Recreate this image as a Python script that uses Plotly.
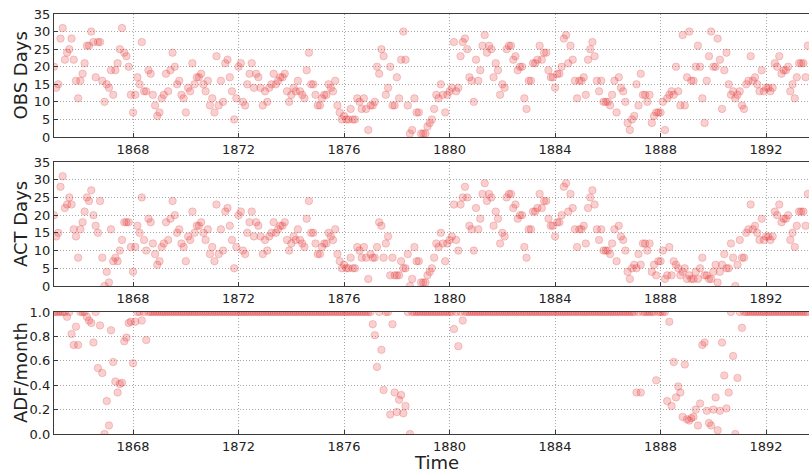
import pandas as pd
import plotly.graph_objects as go

# Monthly values, one row per year starting Jan 1865
OBS = [
    20,14,15,28,31,22,24,25,28,22,16,11,
    16,18,21,26,26,30,27,17,27,27,16,10,
    15,14,19,12,19,21,25,31,24,23,20,12,
    7,12,17,15,27,13,13,19,18,12,9,6,
    7,11,12,18,13,19,24,20,15,16,12,11,
    7,14,13,21,15,17,17,18,15,13,16,9,
    11,7,23,9,16,10,21,22,17,13,5,11,
    20,21,10,9,15,18,21,14,18,17,14,9,
    13,10,14,15,18,15,16,17,17,18,13,10,
    12,14,13,16,13,12,11,19,24,15,15,12,
    9,9,11,12,12,15,14,13,16,9,7,5,
    6,5,5,8,5,5,11,10,8,11,8,2,
    9,9,10,20,18,25,23,12,14,20,9,9,
    17,11,22,30,22,9,1,2,11,7,7,1,
    1,1,3,4,5,8,12,11,15,12,7,12,
    13,14,27,13,14,23,27,28,25,17,16,10,
    22,16,19,26,29,24,26,25,17,21,19,12,
    15,14,25,26,26,22,23,19,20,20,11,8,
    16,16,21,21,22,26,22,24,24,19,17,17,
    14,18,18,20,28,29,21,26,22,16,11,16,
    16,17,12,22,25,27,23,16,13,16,10,10,
    10,9,12,16,7,17,14,13,10,4,2,5,
    6,15,9,18,12,12,10,12,4,6,7,7,
    7,10,2,11,12,13,12,20,13,9,29,9,
    17,30,16,16,20,26,20,11,4,16,23,30,
    20,20,28,22,8,19,24,15,12,13,11,12,
    13,9,8,15,16,23,16,17,15,13,19,13,
    14,14,13,14,21,20,23,18,19,19,20,13,
    15,11,17,21,21,21,17,26,
]

ACT = [
    20,14,15,28,31,22,23,25,23,16,14,8,
    16,18,21,25,24,27,20,17,15,24,8,0,
    4,1,16,7,8,7,10,13,18,18,18,11,
    4,11,17,15,25,13,10,19,18,12,9,6,
    7,11,12,18,13,19,24,20,15,16,12,11,
    7,14,13,21,15,17,17,18,15,13,16,9,
    11,7,23,9,16,10,21,22,17,13,5,11,
    20,21,10,9,15,18,21,14,18,17,14,9,
    13,10,14,15,18,15,16,17,17,18,13,10,
    12,14,13,16,13,12,11,19,24,15,15,12,
    9,9,11,12,12,15,14,13,16,9,7,5,
    6,5,5,8,5,5,11,10,8,11,8,2,
    9,8,8,11,18,17,8,12,14,3,8,3,
    3,3,7,5,5,9,0,2,11,7,7,1,
    1,1,3,4,5,8,12,11,15,12,7,12,
    13,14,23,13,10,23,25,28,25,17,16,10,
    22,16,19,26,29,24,26,25,17,21,19,12,
    15,14,25,26,26,22,23,19,20,20,11,8,
    16,16,21,21,22,26,22,24,24,19,17,17,
    14,18,18,20,28,29,21,26,22,16,11,16,
    16,17,12,22,25,27,23,16,13,16,10,10,
    10,9,12,16,7,17,14,13,10,4,2,5,
    6,5,9,6,12,12,10,12,4,6,3,7,
    7,10,2,3,11,3,7,6,5,3,4,5,
    2,3,2,2,4,2,5,8,3,3,2,2,
    4,6,1,4,6,9,5,5,12,8,0,6,
    13,8,8,15,16,23,16,17,15,13,19,13,
    14,14,13,14,21,20,23,18,19,19,20,13,
    15,11,17,21,21,21,17,26,
]

ADF = [
    1,1,1,1,1,1,.96,1,.82,.73,.88,.73,
    1,1,1,.96,.93,.91,.75,1,.54,.89,.50,0,
    .27,.07,.85,.59,.43,.34,.41,.42,.76,.79,.91,.92,
    .58,.92,1,1,.93,1,.77,1,1,1,1,1,
    1,1,1,1,1,1,1,1,1,1,1,1,
    1,1,1,1,1,1,1,1,1,1,1,1,
    1,1,1,1,1,1,1,1,1,1,1,1,
    1,1,1,1,1,1,1,1,1,1,1,1,
    1,1,1,1,1,1,1,1,1,1,1,1,
    1,1,1,1,1,1,1,1,1,1,1,1,
    1,1,1,1,1,1,1,1,1,1,1,1,
    1,1,1,1,1,1,1,1,1,1,1,1,
    1,.90,.81,.55,1,.69,.36,1,1,.16,.90,.34,
    .18,.28,.32,.17,.23,1,0,1,1,1,1,1,
    1,1,1,1,1,1,1,1,1,1,1,1,
    1,1,.86,1,.72,1,.93,1,1,1,1,1,
    1,1,1,1,1,1,1,1,1,1,1,1,
    1,1,1,1,1,1,1,1,1,1,1,1,
    1,1,1,1,1,1,1,1,1,1,1,1,
    1,1,1,1,1,1,1,1,1,1,1,1,
    1,1,1,1,1,1,1,1,1,1,1,1,
    1,1,1,1,1,1,1,1,1,1,1,1,
    1,.34,1,.34,1,1,1,1,1,1,.44,1,
    1,1,1,.27,.92,.23,.59,.30,.39,.34,.14,.57,
    .12,.11,.13,.14,.20,.07,.25,.73,.75,.19,.09,.07,
    .20,.30,.03,.19,.75,.48,.21,.34,1,.64,0,.46,
    1,.87,1,1,1,1,1,1,1,1,1,1,
    1,1,1,1,1,1,1,1,1,1,1,1,
    1,1,1,1,1,1,1,1,
]

MONTHS = pd.date_range("1865-01-01", periods=len(OBS), freq="MS")
Y_TITLES = ["OBS Days", "ACT Days", "ADF/month"]
X_TITLE = "Time"

FONT = "DejaVu Sans"
TXT = "#222222"
marker = dict(size=7.5, color="rgba(232,60,60,0.24)",
              line=dict(color="rgba(225,50,50,0.22)", width=1))

fig = go.Figure()
for i, vals in enumerate([OBS, ACT, ADF], start=1):
    fig.add_trace(go.Scatter(
        x=MONTHS, y=vals, mode="markers", marker=marker,
        xaxis="x" if i == 1 else f"x{i}", yaxis="y" if i == 1 else f"y{i}",
        showlegend=False, hoverinfo="skip", cliponaxis=True))

GRID = dict(showgrid=True, gridcolor="#a8a8a8", griddash="1px,2px", gridwidth=1)
xcommon = dict(type="date", range=["1865-01-01", "1893-08-17"],
               tick0="1868-01-01", dtick="M48", tickformat="%Y",
               showline=True, mirror=True, linecolor="#3a3a3a", linewidth=1.3,
               ticks="inside", ticklen=4, tickcolor="#3a3a3a",
               tickfont=dict(family=FONT, size=13, color=TXT), zeroline=False, **GRID)
ycommon = dict(showline=True, mirror=True, linecolor="#3a3a3a", linewidth=1.3,
               ticks="inside", ticklen=4, tickcolor="#3a3a3a",
               tickfont=dict(family=FONT, size=13, color=TXT), zeroline=False, **GRID)

doms = [[0.7071, 1.0], [0.3524, 0.6476], [0.0, 0.2905]]
layout = dict(
    width=809, height=472, paper_bgcolor="white", plot_bgcolor="white",
    margin=dict(l=54, r=0, t=14, b=38),
    font=dict(family=FONT, color=TXT),
)
for i in range(1, 4):
    xk = "xaxis" if i == 1 else f"xaxis{i}"
    yk = "yaxis" if i == 1 else f"yaxis{i}"
    ya = "y" if i == 1 else f"y{i}"
    xa = "x" if i == 1 else f"x{i}"
    layout[xk] = dict(xcommon, anchor=ya, domain=[0, 1])
    if i < 3:
        layout[yk] = dict(ycommon, anchor=xa, domain=doms[i - 1],
                          range=[0, 35], tick0=0, dtick=5)
    else:
        layout[yk] = dict(ycommon, anchor=xa, domain=doms[i - 1],
                          range=[0, 1], tick0=0, dtick=0.2, tickformat=".1f")
fig.update_layout(**layout)

centers = [0.8536, 0.5, 0.1452]
for t, yc in zip(Y_TITLES, centers):
    fig.add_annotation(text=t, xref="paper", yref="paper", x=-0.045, y=yc,
                       xanchor="center", yanchor="middle", textangle=-90,
                       showarrow=False, font=dict(family=FONT, size=18, color=TXT))
fig.add_annotation(text=X_TITLE, xref="paper", yref="paper", x=0.507, y=-0.0667,
                   xanchor="center", yanchor="middle", showarrow=False,
                   font=dict(family=FONT, size=18, color=TXT))

fig.write_html("out.html",
               config={"displayModeBar": False},
               post_script="document.body.style.margin='0';"
                           "document.body.style.overflow='hidden';")
